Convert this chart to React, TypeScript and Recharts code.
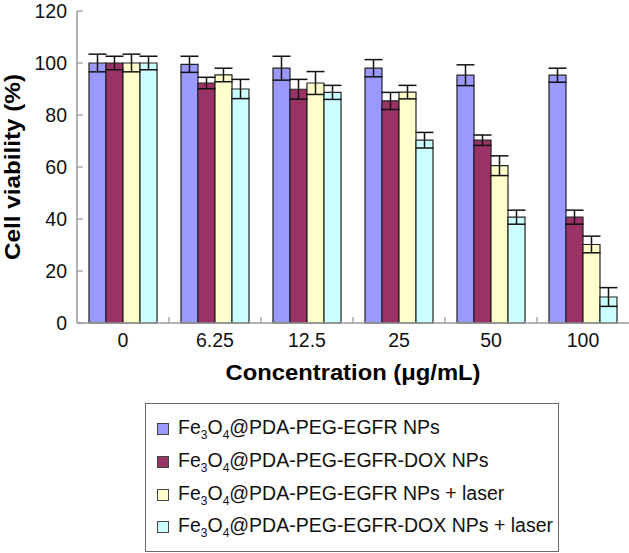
import { BarChart, Bar, XAxis, YAxis, ErrorBar, Legend } from 'recharts'

const categories = ['0', '6.25', '12.5', '25', '50', '100']
const egfrNps = [100, 99.5, 98, 98, 95.3, 95.3]
const egfrNpsErr = [3.4, 3.1, 4.6, 3.3, 4, 2.7]
const doxNps = [100, 92.3, 89.9, 85.4, 70.3, 40.7]
const doxNpsErr = [2.6, 2.2, 3.8, 3.3, 2, 2.7]
const egfrLaser = [100, 95.4, 92.3, 88.8, 60.5, 30.2]
const egfrLaserErr = [3.4, 2.6, 4.4, 2.6, 3.8, 3.2]
const doxLaser = [100, 90, 88.7, 70.3, 40.7, 10]
const doxLaserErr = [2.6, 3.7, 2.7, 3, 2.7, 3.6]
const yTicks = [0, 20, 40, 60, 80, 100, 120]

const series = [
  { key: 'egfrNps', err: 'egfrNpsErr', color: '#9999FF', name: 'PDA-PEG-EGFR NPs' },
  { key: 'doxNps', err: 'doxNpsErr', color: '#993366', name: 'PDA-PEG-EGFR-DOX NPs' },
  { key: 'egfrLaser', err: 'egfrLaserErr', color: '#FFFFCC', name: 'PDA-PEG-EGFR NPs + laser' },
  { key: 'doxLaser', err: 'doxLaserErr', color: '#CCFFFF', name: 'PDA-PEG-EGFR-DOX NPs + laser' },
]

const chartData = categories.map((c, i) => ({
  conc: c,
  egfrNps: egfrNps[i], egfrNpsErr: egfrNpsErr[i],
  doxNps: doxNps[i], doxNpsErr: doxNpsErr[i],
  egfrLaser: egfrLaser[i], egfrLaserErr: egfrLaserErr[i],
  doxLaser: doxLaser[i], doxLaserErr: doxLaserErr[i],
}))

const FONT = '"Liberation Sans", Arial, sans-serif'
const W = 629
const H = 553
const Y_AXIS_W = 77
const band = (W - Y_AXIS_W) / categories.length

function XTick(props: any) {
  const { x, y, payload, index } = props
  const off = payload && payload.offset ? payload.offset : band / 2
  return (
    <g>
      <text x={x} y={y} dy={24} textAnchor="middle" fontSize={19.5} fontFamily={FONT} fill="#111">
        {payload.value}
      </text>
      {index < categories.length - 1 && (
        <line x1={x + off} x2={x + off} y1={y} y2={y - 6} stroke="#999" strokeWidth={1.2} />
      )}
    </g>
  )
}

function YTick(props: any) {
  const { x, y, payload } = props
  return (
    <g>
      <text x={x - 10} y={y} dy="0.36em" textAnchor="end" fontSize={19.5} fontFamily={FONT} fill="#111">
        {payload.value}
      </text>
      <line x1={x} x2={x + 6} y1={y} y2={y} stroke="#999" strokeWidth={1.2} />
    </g>
  )
}

function LegendBox() {
  return (
    <div
      style={{
        width: 414,
        height: 149,
        boxSizing: 'border-box',
        border: '1.5px solid #666',
        paddingTop: 9,
        fontFamily: FONT,
        fontSize: 19.5,
        color: '#111',
        textAlign: 'left',
        background: '#fff',
      }}
    >
      {series.map(s => (
        <div key={s.key} style={{ height: 32.7, display: 'flex', alignItems: 'center', paddingLeft: 11 }}>
          <span
            style={{
              display: 'inline-block',
              width: 12,
              height: 12,
              boxSizing: 'border-box',
              background: s.color,
              border: '1px solid #444',
              marginRight: 9,
            }}
          />
          <span style={{ whiteSpace: 'nowrap' }}>
            Fe<sub style={{ fontSize: 12 }}>3</sub>O<sub style={{ fontSize: 12 }}>4</sub>@{s.name}
          </span>
        </div>
      ))}
    </div>
  )
}

export default function App() {
  return (
    <div style={{ position: 'absolute', left: 0, top: 0, width: W, height: H, background: '#fff' }}>
      <BarChart
        width={W}
        height={H}
        data={chartData}
        margin={{ top: 11, right: 0, left: 0, bottom: 170 }}
        barCategoryGap={12}
        barGap={0}
      >
        <XAxis
          dataKey="conc"
          height={60}
          stroke="#999"
          strokeWidth={1.5}
          tickLine={false}
          tickSize={0}
          tickMargin={0}
          tick={<XTick />}
          interval={0}
          label={(p: any) => {
            const vb = p.viewBox
            return (
              <text
                x={vb.x + vb.width / 2}
                y={vb.y + 57}
                textAnchor="middle"
                fontSize={22}
                fontWeight="bold"
                fontFamily={FONT}
                fill="#000"
                textLength={255}
                lengthAdjust="spacingAndGlyphs"
              >
                Concentration (μg/mL)
              </text>
            )
          }}
        />
        <YAxis
          width={Y_AXIS_W}
          domain={[0, 120]}
          ticks={yTicks}
          stroke="#999"
          strokeWidth={1.5}
          tickLine={false}
          tickSize={0}
          tickMargin={0}
          tick={<YTick />}
          interval={0}
          label={(p: any) => {
            const vb = p.viewBox
            const cy = vb.y + vb.height / 2
            return (
              <text
                x={20}
                y={cy}
                transform={`rotate(-90 20 ${cy})`}
                textAnchor="middle"
                fontSize={22}
                fontWeight="bold"
                fontFamily={FONT}
                fill="#000"
                textLength={186}
                lengthAdjust="spacingAndGlyphs"
              >
                Cell viability (%)
              </text>
            )
          }}
        />
        <Legend
          layout="horizontal"
          verticalAlign="middle"
          align="center"
          content={() => <LegendBox />}
          wrapperStyle={{ left: 145, top: 403, width: 414, height: 149 }}
        />
        {series.map(s => (
          <Bar
            key={s.key}
            dataKey={s.key}
            fill={s.color}
            stroke="#222"
            strokeWidth={1.2}
            isAnimationActive={false}
          >
            <ErrorBar dataKey={s.err} width={9} stroke="#111" strokeWidth={1.5} isAnimationActive={false} />
          </Bar>
        ))}
      </BarChart>
    </div>
  )
}
